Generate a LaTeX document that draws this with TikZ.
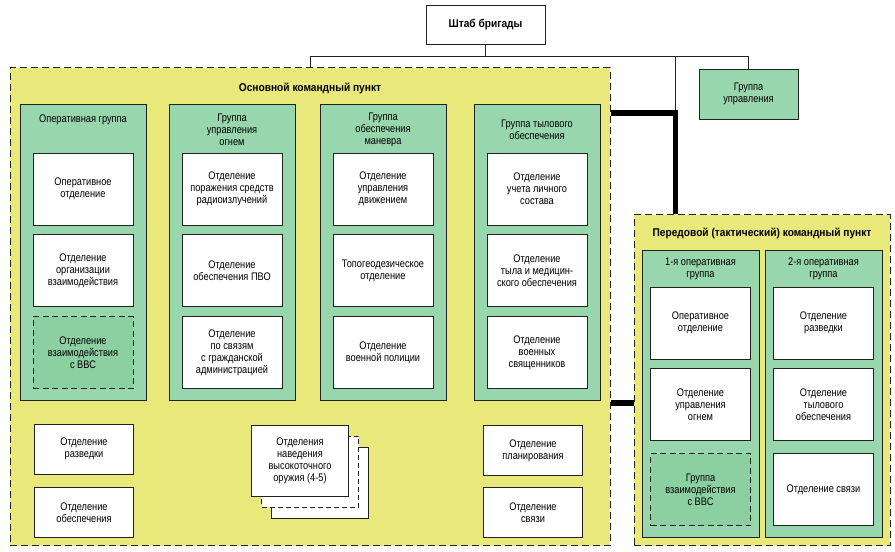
\documentclass[tikz,border=0pt]{standalone}
\usepackage{fontspec}
\setmainfont{Liberation Sans}[FakeStretch=0.84]
\newfontfamily\titlefont{Liberation Sans}[FakeStretch=0.9]
\usetikzlibrary{positioning}

\definecolor{cpyellow}{RGB}{233,232,122}
\definecolor{grpgreen}{RGB}{152,214,174}
\definecolor{vvsgreen}{RGB}{140,208,162}
\definecolor{ink}{RGB}{35,35,30}

\begin{document}
\begin{tikzpicture}[
    x=1pt, y=1pt,
    every node/.style = {font=\fontsize{11}{12}\selectfont, align=center,
                         inner sep=1pt},
    title/.style      = {font=\titlefont\fontsize{11.3}{12}\selectfont\bfseries},
    post/.style       = {draw=ink, line width=1pt, fill=cpyellow,
                         dash pattern=on 7pt off 4pt},
    grp/.style        = {draw=ink, line width=0.8pt, fill=grpgreen},
    unit/.style       = {draw=ink, line width=0.8pt, fill=white,
                         minimum width=100pt, minimum height=72pt},
    vvs/.style        = {unit, fill=vvsgreen, dash pattern=on 6pt off 3.5pt},
    small/.style      = {unit, minimum width=99pt, minimum height=50pt},
    navbox/.style     = {unit, minimum width=97pt, minimum height=71pt},
    link/.style       = {draw=ink, line width=0.7pt},
    thickline/.style  = {draw=black, line width=5.5pt}
  ]
  \fill[white] (0,0) rectangle (895,552);
  \useasboundingbox (0,0) rectangle (895,552);

  % Brigade HQ
  \node[unit, title, minimum width=119pt, minimum height=39pt]
    (hq) at (485.5,527.5) {Штаб бригады};
  % Control group
  \node[grp, minimum width=99pt, minimum height=50pt]
    (grpupr) at (748.5,458) {Группа\\управления};

  % Main command post
  \node[post, minimum width=600pt, minimum height=478pt] (main) at (310,245) {};
  \node[title] (maintitle) at (310,464) {Основной командный пункт};

  % Operational group
  \node[grp, minimum width=126pt, minimum height=296pt] (g1) at (83,300) {};
  \node (g1h) at (83,432) {Оперативная группа};
  \node[unit, below=49pt of g1.north] (g1a) {Оперативное\\отделение};
  \node[unit, below=9pt of g1a] (g1b) {Отделение\\организации\\взаимодействия};
  \node[vvs, below=9pt of g1b] (g1c) {Отделение\\взаимодействия\\с ВВС};

  % Fire control group
  \node[grp, minimum width=126pt, minimum height=296pt] (g2) at (232,300) {};
  \node (g2h) at (232,422) {Группа\\управления\\огнем};
  \node[unit, below=49pt of g2.north] (g2a) {Отделение\\поражения средств\\радиоизлучений};
  \node[unit, below=9pt of g2a] (g2b) {Отделение\\обеспечения ПВО};
  \node[unit, below=9pt of g2b] (g2c) {Отделение\\по связям\\с гражданской\\администрацией};

  % Manoeuvre support group
  \node[grp, minimum width=126pt, minimum height=296pt] (g3) at (383,300) {};
  \node (g3h) at (383,422) {Группа\\обеспечения\\маневра};
  \node[unit, below=49pt of g3.north] (g3a) {Отделение\\управления\\движением};
  \node[unit, below=9pt of g3a] (g3b) {Топогеодезическое\\отделение};
  \node[unit, below=9pt of g3b] (g3c) {Отделение\\военной полиции};

  % Rear support group
  \node[grp, minimum width=126pt, minimum height=296pt] (g4) at (537,300) {};
  \node (g4h) at (537,422.5) {Группа тылового\\обеспечения};
  \node[unit, below=49pt of g4.north] (g4a) {Отделение\\учета личного\\состава};
  \node[unit, below=9pt of g4a] (g4b) {Отделение\\тыла и медицин-\\ского обеспечения};
  \node[unit, below=9pt of g4b] (g4c) {Отделение\\военных\\священников};

  % Sections at the bottom
  \node[small] (razv) at (84,103) {Отделение\\разведки};
  \node[small, below=13pt of razv] (obesp) {Отделение\\обеспечения};
  \node[small] (plan) at (533,101.5) {Отделение\\планирования};
  \node[small, below=11pt of plan] (svz) {Отделение\\связи};

  % Guidance sections (stack)
  \node[navbox] (nav3) at (320,69.5) {};
  \node[navbox, dash pattern=on 5pt off 3pt] (nav2) at (310,80.5) {};
  \node[navbox] (nav1) at (300,91.5)
    {Отделения\\наведения\\высокоточного\\оружия (4-5)};

  % Forward (tactical) command post
  \node[post, minimum width=256pt, minimum height=331pt] (fwd) at (762,171.5) {};
  \node[title] (fwdtitle) at (762,319) {Передовой (тактический) командный пункт};

  % 1st operational group
  \node[grp, minimum width=117pt, minimum height=287pt] (fc1) at (700.5,158.5) {};
  \node (fc1h) at (700.5,283) {1-я оперативная\\группа};
  \node[unit, below=37pt of fc1.north] (fc1a) {Оперативное\\отделение};
  \node[unit, below=9pt of fc1a] (fc1b) {Отделение\\управления\\огнем};
  \node[vvs, below=12pt of fc1b] (fc1c) {Группа\\взаимодействия\\с ВВС};

  % 2nd operational group
  \node[grp, minimum width=117pt, minimum height=287pt] (fc2) at (823.5,158.5) {};
  \node (fc2h) at (823.5,283) {2-я оперативная\\группа};
  \node[unit, below=37pt of fc2.north] (fc2a) {Отделение\\разведки};
  \node[unit, below=9pt of fc2a] (fc2b) {Отделение\\тылового\\обеспечения};
  \node[unit, below=12pt of fc2b] (fc2c) {Отделение связи};

  % Connectors
  \coordinate (bus) at (485.5,496);
  \coordinate (jn)  at (675.5,439);
  \coordinate (jn2) at (622,149);
  \draw[link] (hq) -- (bus);
  \draw[link] (main.north) -- (main.north |- bus) -| (grpupr.north);
  \draw[link] (jn |- bus) -- (jn);
  \draw[thickline] (main.east |- jn) -- (jn) -- (jn |- fwd.north);
  \draw[thickline] (main.east |- jn2) -- (fwd.west |- jn2);
\end{tikzpicture}
\end{document}
